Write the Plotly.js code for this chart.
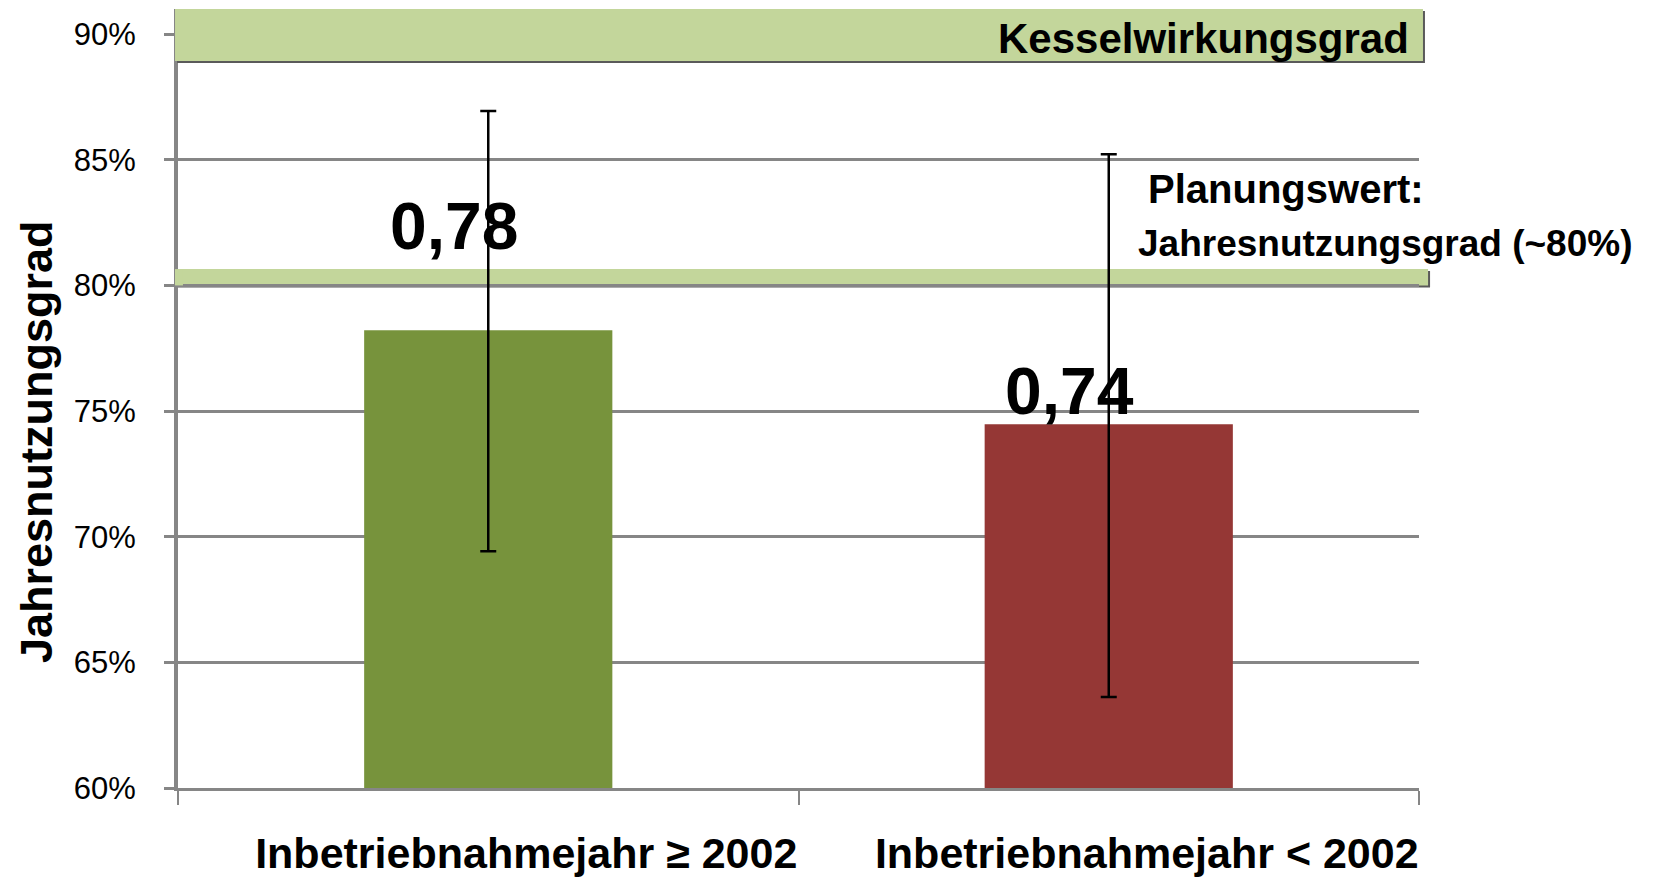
<!DOCTYPE html>
<html><head><meta charset="utf-8">
<script src="https://cdn.plot.ly/plotly-3.0.1.min.js"></script>
<style>html,body{margin:0;padding:0;background:#fff;}#chart{width:1656px;height:879px;}</style>
</head><body><div id="chart"></div>
<script>
// ---- data ----
const categories = ["Inbetriebnahmejahr ≥ 2002", "Inbetriebnahmejahr < 2002"];
const values = [78.22, 74.48];
const errorPlus = [8.72, 10.74];
const errorMinus = [8.80, 10.86];
const valueLabels = ["0,78", "0,74"];
const barColors = ["#77933C", "#953735"];
const yTickValues = [60, 65, 70, 75, 80, 85, 90];
const yTickLabels = ["60%", "65%", "70%", "75%", "80%", "85%", "90%"];
const boilerBand = [88.93, 91.0];     // Kesselwirkungsgrad
const planningBand = [80.0, 80.65];   // Planungswert ~80%
const yAxisTitle = "Jahresnutzungsgrad";
const boilerLabel = "Kesselwirkungsgrad";
const planningLabel1 = "Planungswert:";
const planningLabel2 = "Jahresnutzungsgrad (~80%)";

const FONT = "Liberation Sans, Arial, sans-serif";
const GRID = "#868686";
const BAND = "#C3D69B";
const SHADOW = "#5a5a5a";

const trace = {
  type: "bar",
  x: categories,
  y: values,
  marker: {color: barColors},
  error_y: {type: "data", symmetric: false, array: errorPlus, arrayminus: errorMinus,
            color: "#000", thickness: 2.5, width: 8},
  hoverinfo: "none"
};

function band(rng, x0, x1, layer) {
  const px = 1 / 1241, dy = 0.08;
  return [
    {type: "rect", xref: "paper", yref: "y", x0: x0 + 2*px, x1: x1 + 2*px, y0: rng[0] - dy, y1: rng[1] - dy,
     fillcolor: SHADOW, line: {width: 0}, layer: layer},
    {type: "rect", xref: "paper", yref: "y", x0: x0, x1: x1, y0: rng[0], y1: rng[1],
     fillcolor: BAND, line: {width: 0}, layer: layer}
  ];
}

const shapes = [].concat(
  band(boilerBand, -0.0024, 1.0032, "above"),
  band(planningBand, -0.0024, 1.0073, "between"),
  // small patch so the planning band covers the y axis line
  [{type: "rect", xref: "paper", yref: "y", x0: -0.0024, x1: 0.004, y0: planningBand[0], y1: planningBand[1],
    fillcolor: BAND, line: {width: 0}, layer: "above"}]
);

const annotations = [
  {xref: "x", yref: "y", x: categories[0], y: 82.35, text: valueLabels[0], showarrow: false,
   xshift: -34, font: {family: FONT, size: 66, color: "#000", weight: "bold"}},
  {xref: "x", yref: "y", x: categories[1], y: 75.8, text: valueLabels[1], showarrow: false,
   xshift: -39, font: {family: FONT, size: 66, color: "#000", weight: "bold"}},
  {xref: "paper", yref: "y", x: 0.9936, y: 89.82, xanchor: "right", text: boilerLabel, showarrow: false,
   font: {family: FONT, size: 42, color: "#000", weight: "bold"}},
  {xref: "paper", yref: "y", x: 0.780, y: 83.82, xanchor: "left", text: planningLabel1, showarrow: false,
   font: {family: FONT, size: 40, color: "#000", weight: "bold"}},
  {xref: "paper", yref: "y", x: 0.772, y: 81.65, xanchor: "left", text: planningLabel2, showarrow: false,
   font: {family: FONT, size: 37, color: "#000", weight: "bold"}},
  {xref: "paper", yref: "y", x: -0.1136, y: 73.77, xanchor: "center", yanchor: "middle",
   text: yAxisTitle, textangle: -90, showarrow: false,
   font: {family: FONT, size: 45, color: "#000", weight: "bold"}}
];

const layout = {
  width: 1656, height: 879,
  margin: {l: 178, r: 237, t: 9, b: 91},
  paper_bgcolor: "#fff", plot_bgcolor: "#fff",
  showlegend: false,
  bargap: 0.6,
  xaxis: {
    type: "category", range: [-0.5, 1.5],
    showline: true, linecolor: GRID, linewidth: 3,
    showgrid: false, zeroline: false,
    ticks: "outside", tickson: "boundaries", ticklen: 14, tickwidth: 2, tickcolor: GRID,
    ticklabelshift: 38, ticklabelstandoff: 25,
    tickfont: {family: FONT, size: 43, color: "#000", weight: "bold"}
  },
  yaxis: {
    range: [60, 91.0],
    tickvals: yTickValues, ticktext: yTickLabels,
    showline: true, linecolor: GRID, linewidth: 4,
    showgrid: true, gridcolor: GRID, gridwidth: 3,
    zeroline: false,
    ticks: "outside", ticklen: 10, tickwidth: 3, tickcolor: GRID,
    ticklabelstandoff: 22,
    tickfont: {family: FONT, size: 31, color: "#000"}
  },
  shapes: shapes,
  annotations: annotations
};

Plotly.newPlot("chart", [trace], layout, {staticPlot: true, displayModeBar: false});
</script>
</body></html>
